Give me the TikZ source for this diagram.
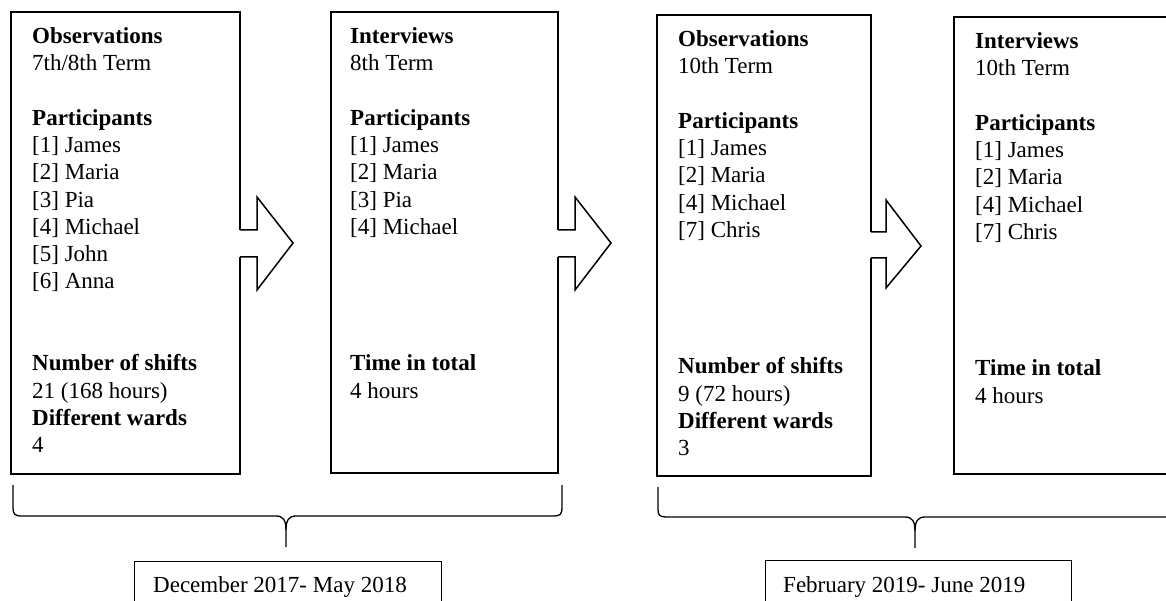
\documentclass[tikz,border=0pt]{standalone}
\usepackage{fontspec}
\setmainfont{Liberation Serif}
% zero-width strut that fixes the height of a block's first line
\newcommand{\toprule}{\rule{0pt}{20pt}}
\begin{document}
\begin{tikzpicture}[x=1pt,y=-1pt,
  panel/.style={draw, line width=1.8pt, inner sep=0pt, outer sep=0pt, anchor=north west},
  body/.style={anchor=north west, align=left, inner sep=0pt, font=\fontsize{23}{27.3}\selectfont},
  flow/.style={line width=1.5pt, line join=miter},
  span/.style={line width=1.3pt, line join=round},
  period/.style={draw, line width=1pt, inner sep=0pt, outer sep=0pt, anchor=north west, minimum height=80pt}]

% canvas
\fill[white] (0,0) rectangle (1166,601);
\clip (0,0) rectangle (1166,601);

% four data-collection panels
\node[panel, minimum width=229pt, minimum height=462pt] (obsA) at (11,12) {};
\node[panel, minimum width=227pt, minimum height=461pt] (intA) at (331,12) {};
\node[panel, minimum width=214pt, minimum height=461pt] (obsB) at (657,15) {};
\node[panel, minimum width=300pt, minimum height=457pt] (intB) at (954,17) {};

% panel texts (first baseline 20pt below the anchor)
\node[body] (obsAtext) at (32,23) {\toprule\textbf{Observations}\\ 7th/8th Term\\[27.3pt]
  \textbf{Participants}\\ {[1]} James\\ {[2]} Maria\\ {[3]} Pia\\ {[4]} Michael\\ {[5]} John\\ {[6]} Anna\\[54.6pt]
  \textbf{Number of shifts}\\ 21 (168 hours)\\ \textbf{Different wards}\\ 4};

\node[body] (intAtext) at (350,23) {\toprule\textbf{Interviews}\\ 8th Term\\[27.3pt]
  \textbf{Participants}\\ {[1]} James\\ {[2]} Maria\\ {[3]} Pia\\ {[4]} Michael\\[109.2pt]
  \textbf{Time in total}\\ 4 hours};

\node[body] (obsBtext) at (678,26) {\toprule\textbf{Observations}\\ 10th Term\\[27.3pt]
  \textbf{Participants}\\ {[1]} James\\ {[2]} Maria\\ {[4]} Michael\\ {[7]} Chris\\[109.2pt]
  \textbf{Number of shifts}\\ 9 (72 hours)\\ \textbf{Different wards}\\ 3};

\node[body] (intBtext) at (975,28) {\toprule\textbf{Interviews}\\ 10th Term\\[27.3pt]
  \textbf{Participants}\\ {[1]} James\\ {[2]} Maria\\ {[4]} Michael\\ {[7]} Chris\\[109.2pt]
  \textbf{Time in total}\\ 4 hours};

% block arrows between panels
\fill[white] (237,230) rectangle (258,257);
\draw[flow] (240,230) -- (257,230) -- (257,197) -- (293,243) -- (257,290) -- (257,257) -- (240,257);
\fill[white] (555,230) rectangle (576,257);
\draw[flow] (558,230) -- (575,230) -- (575,197) -- (611,243) -- (575,290) -- (575,257) -- (558,257);
\fill[white] (868,232) rectangle (887,258);
\draw[flow] (871,232) -- (886,232) -- (886,200) -- (921,246) -- (886,288) -- (886,258) -- (871,258);

% braces grouping each phase
\draw[span] (13,485) -- (13,508) .. controls (13,514) and (15,516) .. (21,516) -- (276,516)
  .. controls (283,516) and (286,520) .. (286,530) -- (286,547);
\draw[span] (286,530) .. controls (286,520) and (289,516) .. (296,516) -- (554,516)
  .. controls (560,516) and (562,514) .. (562,508) -- (562,485);
\draw[span] (658,487) -- (658,510) .. controls (658,515) and (660,517) .. (666,517) -- (905,517)
  .. controls (912,517) and (915,521) .. (915,531) -- (915,548);
\draw[span] (915,531) .. controls (915,521) and (918,517) .. (925,517) -- (1170,517);

% time periods
\node[period, minimum width=307pt] (perA) at (134,561) {};
\node[period, minimum width=306pt] (perB) at (765,560) {};
\node[body] (perAtext) at (153,572) {\toprule December 2017- May 2018};
\node[body] (perBtext) at (783,572) {\toprule February 2019- June 2019};
\end{tikzpicture}
\end{document}
